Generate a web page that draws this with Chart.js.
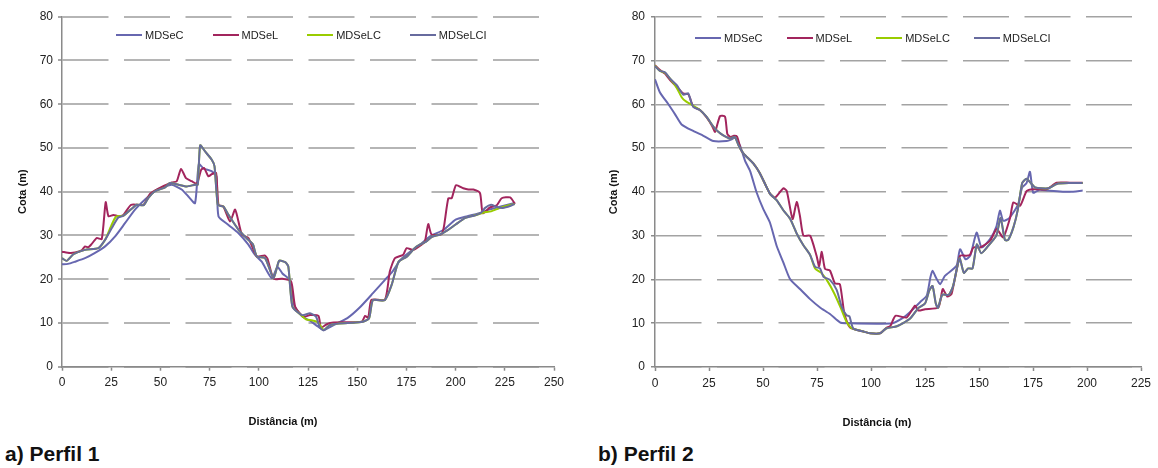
<!DOCTYPE html>
<html>
<head>
<meta charset="utf-8">
<script src="https://cdn.jsdelivr.net/npm/chart.js@4.4.1/dist/chart.umd.min.js"></script>
<style>
  body { margin: 0; background: #fff; overflow: hidden; width: 1158px; height: 468px; position: relative;
         font-family: 'Liberation Sans', Arial, sans-serif; }
  canvas { position: absolute; top: 0; }
  .legend { position: absolute; display: flex; align-items: center; font-size: 11px; color: #222; white-space: nowrap; }
  .legend .item { display: flex; align-items: center; }
  .legend .sw { display: inline-block; width: 26px; height: 2.5px; margin-right: 3px; }
  .cap { position: absolute; top: 442px; font-weight: bold; font-size: 21px; color: #111; }
</style>
</head>
<body>
<canvas id="c1" width="566" height="440" style="left:0"></canvas>
<canvas id="c2" width="594" height="440" style="left:580px"></canvas>
<div class="legend" id="lg1" style="left:116px;top:29px;gap:29px"></div>
<div class="legend" id="lg2" style="left:695px;top:32px;gap:24px"></div>
<div class="cap" style="left:5px">a) Perfil 1</div>
<div class="cap" style="left:598px">b) Perfil 2</div>
<script>
// series names
var names = ['MDSeC', 'MDSeL', 'MDSeLC', 'MDSeLCI'];

// x ticks (distance, m) and y ticks (cota, m)
var xMax1 = 250, xMax2 = 225, xStep = 25;
var yMin = 0, yMax = 80, yStep = 10;

// ---- Perfil 1: [distância, cota]
var p1MDSeC = [[0,23.4],[3,23.5],[6.6,24],[11.7,24.8],[16.8,26],[21.9,27.5],[27,29.8],[32,32.8],[37.1,35.9],[42.2,38.2],
  [47.3,40.2],[52.4,41.2],[55.8,41.6],[60.8,40.5],[64.2,38.9],[67.6,37.4],[69.5,46.3],[72,45.3],[76,44.7],[78.5,43.5],
  [79.5,34.4],[84.6,32.4],[89.7,30.5],[94.7,27.9],[98,25.6],[101.5,24],[106.6,20.2],[109.5,22.8],[112,21.3],[116,19.7],
  [118,14],[122,11.5],[126,10.5],[130,9.2],[133,8.4],[138,9.5],[145,11.1],[151,13.4],[158,16.8],[164,19.8],[168,21.8],
  [172,24.4],[177,26.3],[182,27.9],[187,29.8],[194,31.3],[200,33.6],[206,34.4],[212,35.1],[217,35.9],[223,36.6],[230,37.4]];
var p1MDSeL = [[0,26.3],[4,26],[6.6,26.1],[10,26.6],[11.7,27.5],[13.4,27.3],[15,28],[17.6,29.4],[20.2,29.2],[22.2,37.6],
  [23.6,34.4],[26.1,34.7],[28.6,34.4],[31.2,34.7],[35.1,37],[41.4,37],[44.7,39.5],[49,40.7],[55.8,42.1],[58.3,42.4],
  [60.5,45.2],[63,43.1],[65.9,42.4],[68.5,41.8],[70.7,45],[72.2,45.4],[74.4,43.5],[76.1,44],[78.3,44.3],[79.5,37],
  [82,36.6],[85.4,33.2],[88,35.9],[91.4,30.2],[94.7,29.4],[99,25.2],[103,25.4],[104.4,24.7],[107.5,20.1],[111.7,20.1],
  [116.4,19.5],[118.5,13.7],[122.7,11.4],[126,11.8],[130.3,11.6],[131.6,8.9],[134.5,9.7],[137.9,10.1],[152.3,10.3],
  [154,11.6],[155.6,11.2],[157.3,15.3],[164.1,15.3],[166.6,21.8],[169.2,24.8],[173.4,25.6],[175.1,27.1],[178.5,26.7],
  [182.7,27.9],[184.4,28.6],[186.1,32.6],[187.8,30.2],[192.9,30.3],[194.1,32.1],[196.3,38.5],[198,38.5],[200.2,41.5],
  [203.9,40.8],[206.5,40.5],[209,40.5],[212.4,39.7],[213.8,35.1],[217.5,36.4],[220.9,36.9],[223.4,38.5],[227.7,38.7],[230.2,37.2]];
var p1MDSeLC = [[0,24.8],[2.4,24.2],[5.8,25.7],[11.7,26.7],[18.5,27.1],[21.9,29],[25,32.2],[27.5,34.3],[31.2,34.5],[35.4,36.1],
  [38,37],[41.4,36.9],[43.9,38.6],[47.3,40.1],[52.4,41],[54.9,42],[59.2,41.6],[63.4,41.2],[67.6,41.6],[69,41.6],[70.2,50.6],
  [72.7,49.2],[76.1,47.3],[77.5,45.8],[79.2,37],[82,36.6],[84.6,34.7],[89.7,31.3],[94.7,29],[97,28],[99,25.2],[103.2,24.8],
  [107.5,20.2],[110.3,24.2],[113.4,23.9],[115,22.9],[117.1,13.7],[121,12],[124,10.8],[127,10.6],[130,10.2],[133,8.4],
  [136,9.5],[141,9.9],[152,10.2],[156,11],[158,15.2],[164,15.2],[167.5,18.7],[171,24],[175,25.1],[180,27.4],[185,28.6],
  [188,29.7],[192,30.2],[196,31.2],[200,32.5],[205,34],[210,34.6],[214,35.2],[218,35.5],[222,36.2],[226,36.8],[230,37.2]];
var p1MDSeLCI = [[0,24.8],[2.4,24.2],[5.8,25.7],[11.7,26.7],[18.5,27.1],[21.9,29],[25.3,31.7],[28.6,34.1],[31.2,34.5],[35.4,36.1],
  [38,37],[41.4,36.9],[43.9,38.6],[47.3,40.1],[52.4,41],[54.9,42],[59.2,41.6],[63.4,41.2],[67.6,41.6],[69,41.6],[70.2,50.6],
  [72.7,49.2],[76.1,47.3],[77.5,45.8],[79.2,37],[82,36.6],[84.6,34.7],[89.7,31.3],[94.7,29],[97,28],[99,25.2],[103.2,24.8],
  [107.5,20.2],[110.3,24.2],[113.4,23.9],[115,22.9],[117.1,13.7],[122,11.8],[126,12.2],[129,11.5],[131,9],[133,8.3],
  [136,9.5],[141,9.9],[152,10.2],[156,11],[158,15.2],[164,15.2],[167.5,18.7],[171,24],[175,25.1],[180,27.4],[185,28.6],
  [188,29.7],[192,30.2],[196,31.2],[200,32.5],[205,34],[210,34.6],[213,35.2],[215,36.3],[218,37],[221,36.5],[224,36.3],
  [228,36.8],[230,37.2]];

// ---- Perfil 2
var p2MDSeC = [[0,65.7],[2.3,62.7],[6.2,60],[9.3,57.7],[12.3,55.4],[17.7,53.9],[22.4,52.8],[27,51.6],[33.2,51.6],[35.5,52],
  [37,52.4],[39.4,50.5],[41.7,47.1],[44,44.8],[47.1,39.8],[50.2,36],[53.2,33],[56.3,27.7],[59.4,23.9],[62.5,20.1],[67.1,17.8],
  [71.8,15.5],[76.4,13.6],[81,12.1],[85.6,10.2],[88,10],[110,10],[115,11.3],[118,12.5],[122.7,14.8],[125.8,16.3],[127.5,20.5],
  [128.5,22],[130,20.5],[132,18.9],[134.2,20.8],[139.6,23.1],[141.2,26.9],[143.8,24.6],[146,25.5],[148.9,30.7],[151.2,27.3],
  [155.1,29.2],[158,32],[159.7,35.7],[161.2,33.4],[164,34],[168,37],[170,41],[172,42],[173.6,44.6],[175.1,39.8],[178,40.5],
  [182,40.3],[192,40],[198,40.3]];
var p2MDSeL = [[0,68.9],[2.3,67.8],[4.6,67],[7,65.5],[10,64],[13,62.5],[15.4,62.3],[16.2,61.4],[17.7,59.5],[20.8,58.7],
  [23.9,57],[26.5,55],[27.8,53.7],[30.1,57.3],[32.4,57.2],[33.5,53.2],[35,52.5],[36.5,52.8],[38,52.6],[39.7,49.7],[40.9,48.8],
  [45.5,46.5],[48.6,44.2],[53.2,39.6],[55.6,38.7],[59.4,40.8],[61,40.2],[63.7,33.8],[65.6,37.7],[67.1,34.5],[68.7,30],
  [71.8,30],[74.8,25.4],[76,23],[77.2,26.3],[78.7,22.4],[81,22],[83.3,19.1],[85.6,18.9],[87.7,12.1],[90.3,9],[96.5,8.1],
  [99.5,7.7],[104.2,7.7],[107,8.9],[109,9.4],[111.3,11.7],[116.5,11.3],[120.4,14],[121.9,12.9],[125,13.2],[131.2,13.6],
  [133.2,17.8],[135.3,16.1],[137.3,16.7],[141.2,25.4],[144.1,25.4],[145.8,25.6],[147.4,27.3],[150.5,27.3],[155.1,28.8],
  [158.2,31.5],[161.2,29.6],[164.4,34.1],[165.9,37.6],[169,36.8],[172.1,40.2],[175.2,40.6],[181.3,40.6],[186,42.1],
  [192.1,42.1],[198,42.1]];
var p2MDSeLC = [[0,68.8],[2.3,67.6],[4.6,67.2],[6.9,65.9],[10,63.8],[12.5,61.5],[14.5,60.6],[17,59.9],[20.8,58.7],[23.9,57.1],
  [27,54.9],[29.3,53.7],[31.6,52.9],[34.7,52.2],[37,52.5],[38.6,50.7],[40.9,48.8],[45.5,46.5],[48.6,44.2],[53.2,39.6],
  [56.3,38.1],[59.4,35.8],[62.5,33.9],[65.6,30.5],[68.7,27.8],[71.8,25.6],[74.1,22.5],[77,21.5],[80,19.5],[83,16.8],
  [86,13.5],[88.5,10.5],[91,8.9],[96.5,8.1],[99.5,7.7],[104.2,7.7],[107,8.8],[112,9.3],[118,11],[122,13.5],[125,14.5],
  [127,17.5],[128.5,18.5],[130,14.5],[131,13.5],[133,16.5],[136,16.5],[138,18.5],[141,24.8],[143,21.5],[145,22.5],[147,22.5],
  [149,28],[151,26],[154,27.5],[158,30],[160,34],[162,29],[163.5,29],[166,32],[168,36],[170,42],[172,43],[174,42],[176,41],
  [182,40.8],[186,41.8],[192,42],[198,42]];
var p2MDSeLCI = [[0,68.7],[2.3,67.6],[4.6,67.3],[6.9,65.9],[10,64.4],[13.1,62.2],[15.4,62.5],[16.2,61.4],[17.7,59.4],[20.8,58.7],
  [23.9,57.1],[27,54.9],[29.3,53.7],[31.6,52.9],[34.7,52.2],[37,52.5],[38.6,50.7],[40.9,48.8],[45.5,46.5],[48.6,44.2],
  [53.2,39.6],[56.3,38.1],[59.4,35.8],[62.5,33.9],[65.6,30.5],[68.7,27.8],[71.8,25.6],[74.1,22.9],[76.4,22.5],[78,20.6],
  [81,19.9],[84.1,17.6],[86.4,13.8],[88.7,11.8],[90,11.6],[91.8,8.8],[96.5,8.1],[99.5,7.7],[104.2,7.7],[107,8.8],[112,9.3],
  [118,11],[122,13.5],[125,14.5],[127,17.5],[128.5,18.5],[130,14.5],[131,13.5],[133,16.5],[136,16.5],[138,18.5],[141,24.8],
  [143,21.5],[145,22.5],[147,22.5],[149,28],[151,26],[154,27.5],[158,30],[160,34],[162,29],[163.5,29],[166,32],[168,36],
  [170,42],[172,43],[174,42],[176,41],[182,40.8],[186,41.8],[192,42],[198,42]];

var colors = ['#6767b0', '#a2255d', '#99cc00', '#676b9e'];
var drawOrder = [4, 3, 2, 1];   // last series on top, like Excel

function toPts(arr) {
  return arr.map(function (p) { return { x: p[0], y: p[1] }; });
}

function makeDatasets(series) {
  return series.map(function (s, i) {
    return {
      label: names[i],
      data: toPts(s),
      borderColor: colors[i],
      backgroundColor: colors[i],
      borderWidth: 2,
      pointRadius: 0,
      tension: 0.2,
      order: drawOrder[i]
    };
  });
}

function makeChart(id, series, o) {
  var ctx = document.getElementById(id).getContext('2d');
  return new Chart(ctx, {
    type: 'line',
    data: { datasets: makeDatasets(series) },
    options: {
      responsive: false,
      animation: false,
      events: [],
      layout: { padding: { top: 16.7, left: 0, right: 0, bottom: 0 } },
      plugins: {
        legend: { display: false },
        tooltip: { enabled: false },
        title: {
          display: true,
          position: 'bottom',
          text: 'Distância (m)',
          color: '#111',
          font: { family: 'Liberation Sans', size: 11, weight: 'bold' },
          padding: { top: 0, bottom: o.titleBottom }
        }
      },
      scales: {
        x: {
          type: 'linear',
          min: 0,
          max: o.xMax,
          ticks: { stepSize: xStep, color: '#222', padding: 5, maxRotation: 0, autoSkip: false,
                   font: { family: 'Liberation Sans', size: 12 } },
          grid: { drawOnChartArea: false, drawTicks: true, tickLength: 4, tickColor: '#8a8a8a', tickWidth: 1.5 },
          border: { color: '#8a8a8a', width: 1.5 },
          afterFit: function (s) { s.height = o.xHeight; s.paddingRight = o.padRight; }
        },
        y: {
          min: yMin,
          max: yMax,
          ticks: { stepSize: yStep, color: '#222', padding: o.yPad,
                   font: { family: 'Liberation Sans', size: 12 } },
          grid: { color: o.gridColor, lineWidth: o.gridWidth, drawTicks: true, tickLength: 4,
                  tickColor: '#8a8a8a', tickWidth: 1.5 },
          border: { color: '#8a8a8a', width: 1.5, dash: [46, 15.5] },
          title: { display: true, text: 'Cota (m)', color: '#111',
                   font: { family: 'Liberation Sans', size: 11, weight: 'bold' },
                   padding: { top: o.yTitlePad, bottom: 0 } },
          afterFit: function (s) { s.width = o.yWidth; }
        }
      }
    }
  });
}

function htmlLegend(chart, id) {
  var box = document.getElementById(id);
  chart.data.datasets.forEach(function (ds) {
    var item = document.createElement('div');
    item.className = 'item';
    var sw = document.createElement('span');
    sw.className = 'sw';
    sw.style.background = ds.borderColor;
    item.appendChild(sw);
    item.appendChild(document.createTextNode(ds.label));
    box.appendChild(item);
  });
}

var chart1 = makeChart('c1', [p1MDSeC, p1MDSeL, p1MDSeLC, p1MDSeLCI], {
  xMax: xMax1, yWidth: 62, padRight: 12, xHeight: 48.4, titleBottom: 11.7, yPad: 5, yTitlePad: 16.4,
  gridColor: '#b5b5b5', gridWidth: 2
});
var chart2 = makeChart('c2', [p2MDSeC, p2MDSeL, p2MDSeLC, p2MDSeLCI], {
  xMax: xMax2, yWidth: 75, padRight: 33, xHeight: 49.7, titleBottom: 10.1, yPad: 6, yTitlePad: 27.4,
  gridColor: '#a3a3a3', gridWidth: 1.5
});
htmlLegend(chart1, 'lg1');
htmlLegend(chart2, 'lg2');
</script>
</body>
</html>
